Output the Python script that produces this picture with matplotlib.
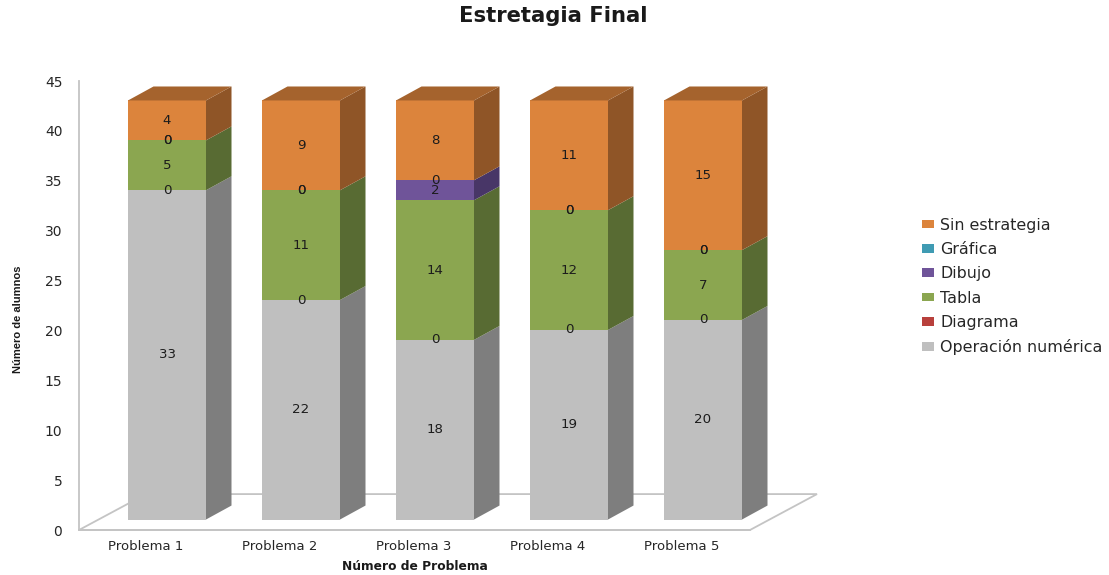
import matplotlib
matplotlib.use("Agg")
import matplotlib.pyplot as plt
from matplotlib.patches import Polygon

categories = ["Problema 1", "Problema 2", "Problema 3", "Problema 4", "Problema 5"]
operacion = [33, 22, 18, 19, 20]
diagrama = [0, 0, 0, 0, 0]
tabla = [5, 11, 14, 12, 7]
dibujo = [0, 0, 2, 0, 0]
grafica = [0, 0, 0, 0, 0]
sin_estrategia = [4, 9, 8, 11, 15]

series = [
    ("Operación numérica", operacion, "#bfbfbf", "#7e7e7e", "#9a9a9a"),
    ("Diagrama", diagrama, "#b8403c", "#7c2a28", "#94332f"),
    ("Tabla", tabla, "#8ba650", "#586b33", "#6f8540"),
    ("Dibujo", dibujo, "#6f5499", "#483667", "#59437b"),
    ("Gráfica", grafica, "#3f9bb3", "#296878", "#327c8f"),
    ("Sin estrategia", sin_estrategia, "#dc843c", "#8f5527", "#a5632d"),
]

W, H = 1109, 575
fig = plt.figure(figsize=(W / 100, H / 100), dpi=100, facecolor="white")

# axes rectangle in pixels; one category step is 134 px wide
left, right, top, bottom = 79, 750, 81, 530
ax = fig.add_axes([left / W, 1 - bottom / H, (right - left) / W, (bottom - top) / H])
step = 134.0
x0 = 167.0
ax.set_xlim((left - x0) / step, (right - x0) / step)
ax.set_ylim(0, 45)

BAR_W = 78 / step
BASE = 1.05          # bars stand this far up on the floor plane
DEPTH_X = 25.5 / step
DEPTH_Y = 1.4
FLOOR_X = 67 / step
FLOOR_Y = 3.6
LABEL_SHIFT = 21 / step   # category labels sit on the front edge of the floor
GRID = "#c4c4c4"

xs = list(range(len(categories)))

# floor plane of the pseudo-3D plot
xl, xr = ax.get_xlim()
ax.add_patch(Polygon([(xl, 0), (xr, 0), (xr + FLOOR_X, FLOOR_Y), (xl + FLOOR_X, FLOOR_Y)],
                     closed=True, facecolor="white", edgecolor=GRID, lw=1.3,
                     clip_on=False, zorder=1))

handles = []
stack = [BASE] * len(xs)
for name, values, front, side, roof in series:
    bars = ax.bar(xs, values, width=BAR_W, bottom=stack, color=front, label=name,
                  linewidth=0, zorder=3)
    handles.append(bars)
    for x, v, b in zip(xs, values, stack):
        xa = x + BAR_W / 2
        if v > 0:
            ax.add_patch(Polygon([(xa, b), (xa + DEPTH_X, b + DEPTH_Y),
                                  (xa + DEPTH_X, b + v + DEPTH_Y), (xa, b + v)],
                                 closed=True, facecolor=side, edgecolor="none",
                                 clip_on=False, zorder=3))
        ax.text(x, b + v / 2, str(v), ha="center", va="center", fontsize=9.6,
                color="#1c1c1c", zorder=6)
    stack = [s + v for s, v in zip(stack, values)]
    if name == "Sin estrategia":
        for x, t in zip(xs, stack):
            xa, xb = x - BAR_W / 2, x + BAR_W / 2
            ax.add_patch(Polygon([(xa, t), (xb, t), (xb + DEPTH_X, t + DEPTH_Y),
                                  (xa + DEPTH_X, t + DEPTH_Y)],
                                 closed=True, facecolor=roof, edgecolor="none",
                                 clip_on=False, zorder=3))

for s in ("top", "right"):
    ax.spines[s].set_visible(False)
for s in ("left", "bottom"):
    ax.spines[s].set_color(GRID)
    ax.spines[s].set_linewidth(1.3)
    ax.spines[s].set_zorder(2)

ax.set_yticks(range(0, 46, 5))
ax.set_xticks([x - LABEL_SHIFT for x in xs])
ax.set_xticklabels(categories)
ax.tick_params(axis="both", length=0, labelcolor="#262626")
ax.tick_params(axis="y", labelsize=10, pad=12)
ax.tick_params(axis="x", labelsize=9.5, pad=7)

fig.text(553 / W, 1 - 16 / H, "Estretagia Final", ha="center", va="center",
         fontsize=15.2, fontweight="bold", color="#1a1a1a")
fig.text(415 / W, 1 - 566 / H, "Número de Problema", ha="center", va="center",
         fontsize=8.8, fontweight="bold", color="#1a1a1a")
fig.text(18 / W, 1 - 319 / H, "Número de alumnos", ha="center", va="center",
         rotation=90, fontsize=8, fontweight="bold", color="#1a1a1a",
         family=["Liberation Sans", "DejaVu Sans"])

legend_handles = [h for h in reversed(handles)]
legend_labels = [s[0] for s in reversed(series)]
leg = fig.legend(legend_handles, legend_labels, loc="center left",
                 bbox_to_anchor=(922 / W, 1 - 286.5 / H), frameon=False,
                 fontsize=11.4, handlelength=0.75, handleheight=0.45, handletextpad=0.4,
                 labelspacing=0.585, borderpad=0, borderaxespad=0)
for t in leg.get_texts():
    t.set_color("#262626")

fig.savefig("out.png", dpi=100, facecolor="white")
